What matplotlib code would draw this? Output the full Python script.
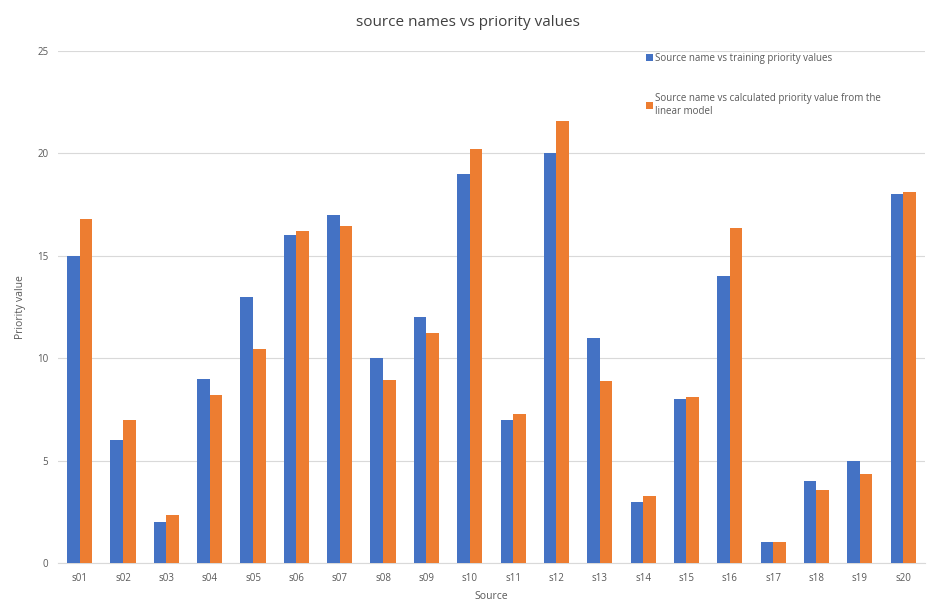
import numpy as np
import matplotlib
matplotlib.use('Agg')
import matplotlib.pyplot as plt

plt.rcParams['font.family'] = ['Open Sans', 'DejaVu Sans']

# chart data
sources = ['s01', 's02', 's03', 's04', 's05', 's06', 's07', 's08', 's09', 's10',
           's11', 's12', 's13', 's14', 's15', 's16', 's17', 's18', 's19', 's20']
training = [15, 6, 2, 9, 13, 16, 17, 10, 12, 19,
            7, 20, 11, 3, 8, 14, 1, 4, 5, 18]
calculated = [16.8, 7.0, 2.36, 8.21, 10.47, 16.21, 16.47, 8.93, 11.22, 20.21,
              7.27, 21.58, 8.86, 3.28, 8.08, 16.34, 1.02, 3.58, 4.36, 18.11]
yticks = [0, 5, 10, 15, 20, 25]

blue = '#4472C4'
orange = '#ED7D31'
grey = '#595959'

fig = plt.figure(figsize=(9.36, 6.06), dpi=100)
ax = fig.add_axes([0.062, 0.071, 0.926, 0.845])

x = np.arange(len(sources))
w = 0.29
ax.bar(x - w/2, training, w, color=blue, label='Source name vs training priority values', zorder=3)
ax.bar(x + w/2, calculated, w, color=orange,
       label='Source name vs calculated priority value from the\nlinear model', zorder=3)

ax.set_xlim(-0.5, len(sources) - 0.5)
ax.set_ylim(0, 25)
ax.set_yticks(yticks)
ax.set_xticks(x)
ax.set_xticklabels(sources)
ax.grid(axis='y', color='#d9d9d9', linewidth=0.8, zorder=0)
for s in ['top', 'right', 'left']:
    ax.spines[s].set_visible(False)
ax.spines['bottom'].set_color('#d9d9d9')
ax.tick_params(axis='both', length=0, labelsize=7, colors=grey, pad=7)
ax.set_xlabel('Source', fontsize=7.5, color=grey, labelpad=5)
ax.set_ylabel('Priority value', fontsize=7.5, color=grey, labelpad=8)

fig.suptitle('source names vs priority values', fontsize=11, color='#404040', y=0.975)

leg = ax.legend(loc='upper left', bbox_to_anchor=(0.668, 1.013), frameon=False,
                fontsize=7, handlelength=0.7, handleheight=0.7, handletextpad=0.3,
                labelspacing=3.0, labelcolor=grey)

fig.savefig('out.png', dpi=100)
